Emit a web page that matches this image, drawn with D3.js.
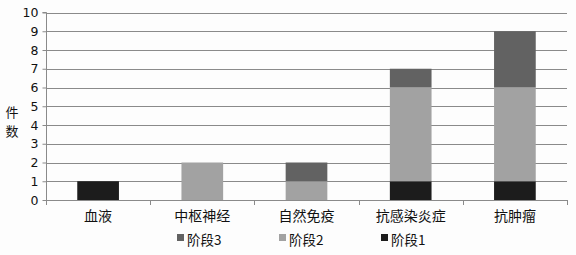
<!DOCTYPE html>
<html>
<head>
<meta charset="utf-8">
<title>件数 - 阶段</title>
<style>
* { margin: 0; padding: 0; }
body { background: #fdfdfd; }
text { font-family: "DejaVu Sans", "Noto Sans CJK SC", sans-serif; fill: #111; }
text.cjk { font-family: "Noto Sans CJK SC", sans-serif; }
</style>
<script src="https://cdn.jsdelivr.net/npm/d3@7/dist/d3.min.js"></script>
</head>
<body>
<div id="chart"></div>
<script>
// data
var categories = ["血液", "中枢神经", "自然免疫", "抗感染炎症", "抗肿瘤"];
var stage1 = [1, 0, 0, 1, 1];
var stage2 = [0, 2, 1, 5, 5];
var stage3 = [0, 0, 1, 1, 3];
var seriesNames = ["阶段1", "阶段2", "阶段3"];
var seriesColors = ["#1c1c1c", "#a2a2a2", "#626262"];
var yTicks = [0, 1, 2, 3, 4, 5, 6, 7, 8, 9, 10];

var W = 576, H = 255;
var plotL = 46, plotR = 567, plotT = 12.5, plotB = 200;

var svg = d3.select("#chart").append("svg")
  .attr("width", W).attr("height", H);

var x = d3.scaleBand().domain(categories).range([plotL, plotR]).paddingInner(0).paddingOuter(0);
var y = d3.scaleLinear().domain([0, 10]).range([plotB, plotT]);

// grid lines
svg.append("g").selectAll("line").data(yTicks.filter(function(d) { return d > 0; }))
  .enter().append("line")
  .attr("x1", plotL).attr("x2", plotR)
  .attr("y1", function(d) { return Math.round(y(d)) + 0.5; })
  .attr("y2", function(d) { return Math.round(y(d)) + 0.5; })
  .attr("stroke", "#8a8a8a").attr("stroke-width", 1);

// stacked bars
var rows = categories.map(function(c, i) {
  return { cat: c, "阶段1": stage1[i], "阶段2": stage2[i], "阶段3": stage3[i] };
});
var stack = d3.stack().keys(seriesNames)(rows);
var barW = x.bandwidth() * 0.4;

svg.append("g").selectAll("g").data(stack).enter().append("g")
  .attr("fill", function(d, i) { return seriesColors[i]; })
  .selectAll("rect").data(function(d) { return d.filter(function(s) { return s[1] - s[0] > 0; }); })
  .enter().append("rect")
  .attr("x", function(d) { return x(d.data.cat) + (x.bandwidth() - barW) / 2; })
  .attr("width", barW)
  .attr("y", function(d) { return y(d[1]); })
  .attr("height", function(d) { return y(d[0]) - y(d[1]); });

// y axis
var yAxis = d3.axisLeft(y).tickValues(yTicks).tickSize(4).tickPadding(4);
var gy = svg.append("g").attr("transform", "translate(" + (plotL + 0.5) + ",0)").call(yAxis);
gy.selectAll("text").style("font-size", "12.5px");
gy.selectAll("line, path").attr("stroke", "#8a8a8a");
gy.select(".domain").attr("d", "M-4," + y(10) + "H0V" + (plotB + 5));

// x axis
var xAxis = d3.axisBottom(x).tickSize(0).tickPadding(11);
var gx = svg.append("g").attr("transform", "translate(0," + plotB + ")").call(xAxis);
gx.selectAll("text").attr("class", "cjk").style("font-size", "14px");
gx.select(".domain").remove();
gx.append("line").attr("x1", plotL).attr("x2", plotR).attr("y1", 0.5).attr("y2", 0.5)
  .attr("stroke", "#8a8a8a");
gx.selectAll("line.sep").data(d3.range(categories.length + 1)).enter().append("line")
  .attr("class", "sep")
  .attr("x1", function(i) { return Math.round(plotL + i * x.bandwidth()) + 0.5; })
  .attr("x2", function(i) { return Math.round(plotL + i * x.bandwidth()) + 0.5; })
  .attr("y1", 0).attr("y2", 5).attr("stroke", "#8a8a8a");

// y label, stacked characters
var yLabelChars = ["件", "数"];
svg.append("g").selectAll("text").data(yLabelChars).enter().append("text")
  .attr("class", "cjk").style("font-size", "13px").attr("text-anchor", "middle")
  .attr("x", 12)
  .attr("y", function(d, i) { return 117 + i * 19; })
  .text(function(d) { return d; });

// legend
var legendItems = [
  { name: "阶段3", color: seriesColors[2], x: 177 },
  { name: "阶段2", color: seriesColors[1], x: 279 },
  { name: "阶段1", color: seriesColors[0], x: 381 }
];
var lg = svg.append("g").selectAll("g").data(legendItems).enter().append("g")
  .attr("transform", function(d) { return "translate(" + d.x + ",240)"; });
lg.append("rect").attr("x", 0).attr("y", -6).attr("width", 7).attr("height", 7)
  .attr("fill", function(d) { return d.color; });
lg.append("text").attr("class", "cjk").attr("x", 10).attr("y", 5)
  .style("font-size", "13.5px").text(function(d) { return d.name; });
</script>
</body>
</html>
